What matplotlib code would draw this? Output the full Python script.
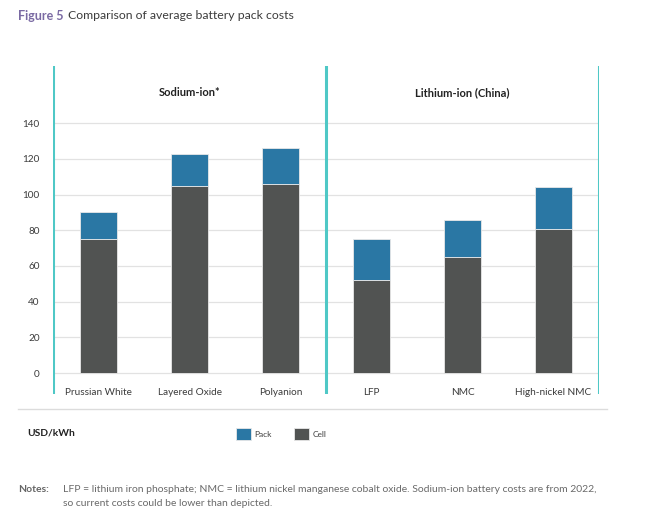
import matplotlib
matplotlib.use("Agg")
import matplotlib.pyplot as plt
from matplotlib.lines import Line2D

plt.rcParams['font.family'] = ['Lato', 'DejaVu Sans']

categories = ["Prussian White", "Layered Oxide", "Polyanion", "LFP", "NMC", "High-nickel NMC"]
cell = [75, 105, 106, 52, 65, 81]
total = [90, 123, 126, 75, 86, 104]
pack = [t - c for t, c in zip(total, cell)]
groups = ["Sodium-ion*", "Lithium-ion (China)"]
yticks = [0, 20, 40, 60, 80, 100, 120, 140]

C_CELL = "#515352"
C_PACK = "#2a77a4"
C_TEAL = "#4fc8c6"
C_GRID = "#e2e2e2"
C_TEXT = "#3c3c3c"

W, H = 659, 515
fig = plt.figure(figsize=(W / 100, H / 100), dpi=100)
fig.patch.set_facecolor("white")

ax = fig.add_axes([53 / W, 1 - 394 / H, 546 / W, (394 - 66) / H])
x = list(range(len(categories)))
b_cell = ax.bar(x, cell, width=0.4, color=C_CELL, edgecolor="#e8e8e8", linewidth=0.6, zorder=3, label="Cell")
b_pack = ax.bar(x, pack, bottom=cell, width=0.4, color=C_PACK, edgecolor="#e8e8e8", linewidth=0.6, zorder=3, label="Pack")

ax.set_xlim(-0.5, 5.5)
ax.set_ylim(-11.77, 172.1)
ax.set_yticks(yticks)
ax.set_yticklabels([str(v) for v in yticks])
ax.set_xticks(x)
ax.set_xticklabels(categories)
ax.grid(axis="y", color=C_GRID, linewidth=0.9, zorder=0)
for s in ax.spines.values():
    s.set_visible(False)
ax.tick_params(axis="y", length=0, pad=9.5, labelsize=7.2, labelcolor=C_TEXT)
ax.tick_params(axis="x", length=0, pad=-4.5, labelsize=7.2, labelcolor=C_TEXT)

for xv in [-0.5, 2.5, 5.5]:
    ax.axvline(xv, color=C_TEAL, linewidth=2.2, zorder=4)

for gx, g in zip([1, 4], groups):
    ax.text(gx, 157, g, ha="center", va="center", fontsize=8, fontweight="bold", color="#222222")

# bottom separator line
fig.add_artist(Line2D([18 / W, 607 / W], [1 - 409.3 / H, 1 - 409.3 / H], color="#dcdcdc", linewidth=1.0))

# title
t1 = fig.text(18 / W, 1 - 15.5 / H, "Figure 5", fontsize=9, fontweight="bold", color="#7a6aa3", ha="left", va="center")
fig.canvas.draw()
bb = t1.get_window_extent()
fig.text((bb.x1 + 4) / W, 1 - 15.5 / H, "Comparison of average battery pack costs", fontsize=8.8, color=C_TEXT, ha="left", va="center")

# unit label
fig.text(27 / W, 1 - 433 / H, "USD/kWh", fontsize=7.4, fontweight="bold", color="#222222", ha="left", va="center")

# legend
leg = fig.legend(handles=[b_pack, b_cell], labels=["Pack", "Cell"], ncol=2, frameon=False,
                 loc="center left", bbox_to_anchor=(236 / W, 1 - 434 / H), bbox_transform=fig.transFigure,
                 fontsize=6, handlelength=1.8, handleheight=1.8, handletextpad=0.4, columnspacing=2.7,
                 borderpad=0, borderaxespad=0, labelcolor=C_TEXT)

# notes
fig.text(18 / W, 1 - 489 / H, "Notes:", fontsize=7.5, fontweight="bold", color="#666666", ha="left", va="center")
fig.text(63 / W, 1 - 489 / H, "LFP = lithium iron phosphate; NMC = lithium nickel manganese cobalt oxide. Sodium-ion battery costs are from 2022,",
         fontsize=7.5, color="#6a6a6a", ha="left", va="center")
fig.text(63 / W, 1 - 504 / H, "so current costs could be lower than depicted.",
         fontsize=7.5, color="#6a6a6a", ha="left", va="center")

fig.savefig("out.png", dpi=100, facecolor="white")
